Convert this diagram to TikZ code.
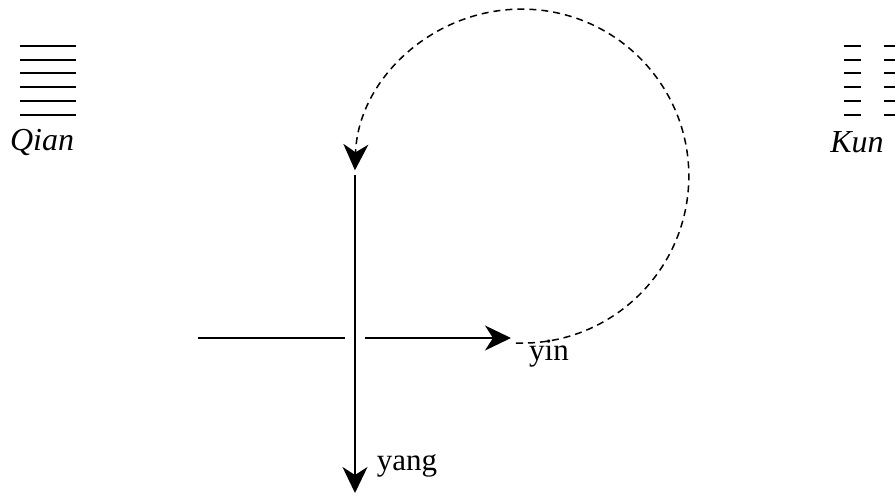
\documentclass[tikz,border=0pt]{standalone}
\usepackage{fontspec}
\setmainfont{Liberation Serif}
\usepackage{tikz}
\usetikzlibrary{positioning,arrows.meta}

\begin{document}
\begin{tikzpicture}[
		x=1pt, y=-1pt,
		line/.style={line width=1.8pt},
		bar/.style={line width=2.2pt},
		arrow/.style={line width=1.8pt, -{Stealth[length=26pt, width=25pt, inset=8pt]}},
		label/.style={font=\fontsize{31}{36}\selectfont, inner sep=0pt}
		]
		\useasboundingbox (0,0) rectangle (895,493);
		
		%==================== Nodes ====================%
		\node[label, font=\fontsize{32}{38}\selectfont\itshape] (qian) at (42,142) {Qian};
		\node[label, font=\fontsize{32}{38}\selectfont\itshape] (kun) at (857,142) {Kun};
		\node[label] (yin) at (549,354) {yin};
		\node[label] (yang) at (407,466) {yang};
		
		\coordinate (west) at (198,338);
		\coordinate (gapl) at (345,338);
		\coordinate (gapr) at (365,338);
		\coordinate (east) at (511,338);
		\coordinate (top) at (355,175);
		\coordinate (bottom) at (355,493);
		\coordinate (loop) at (516,343);
		
		%==================== Hexagrams ====================%
		\foreach \y in {46,60,73,87,101,115} {
			\draw[bar] (20,\y) -- (76,\y);
			\draw[bar] (844,\y) -- (861,\y);
			\draw[bar] (884,\y) -- (895,\y);
		}
		
		%==================== Arrows ====================%
		\draw[line] (west) -- (gapl);
		\draw[arrow] (gapr) -- (east);
		\draw[arrow] (top) -- (bottom);
		
		% dashed loop back to the top
		\draw[arrow, line width=1.5pt, dash pattern=on 7pt off 5pt] (loop) arc[start angle=92, end angle=-178, radius=167];
		
	\end{tikzpicture}
\end{document}
